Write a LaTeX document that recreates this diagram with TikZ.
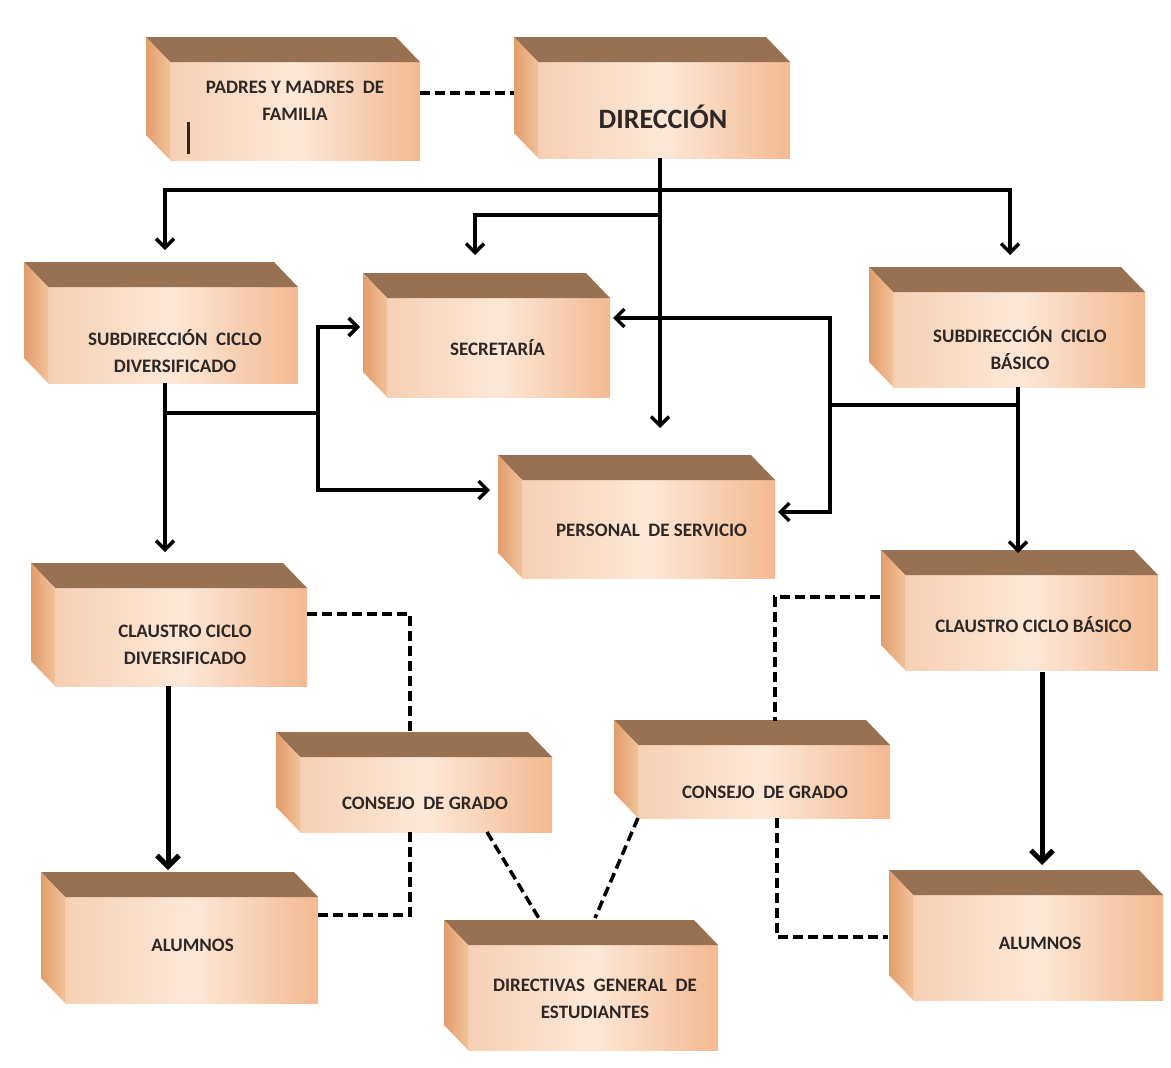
\documentclass[tikz,border=0pt]{standalone}
\usepackage{fontspec}
\setmainfont{Carlito}
\usetikzlibrary{calc,arrows.meta}
\definecolor{topc}{RGB}{152,112,82}
\definecolor{sideA}{RGB}{226,156,108}
\definecolor{sideB}{RGB}{242,194,152}
\definecolor{frontL}{RGB}{246,208,180}
\definecolor{frontM}{RGB}{252,232,215}
\definecolor{frontR}{RGB}{243,185,145}
\definecolor{txt}{RGB}{45,40,38}
\tikzset{
  face/.style={inner sep=0pt, outer sep=0pt, left color=frontL, right color=frontR, middle color=frontM},
  lbl/.style={font=\fontsize{19}{27}\selectfont\bfseries, align=center, text=txt, inner sep=0pt},
  biglbl/.style={font=\fontsize{28}{32}\selectfont\bfseries, align=center, text=txt, inner sep=0pt},
  conn/.style={line width=3.5pt},
  arr/.style={conn, -{Straight Barb[length=9pt,width=18pt]}},
  thickarr/.style={line width=5pt, -{Straight Barb[length=11pt,width=22pt]}},
  dashln/.style={line width=3.5pt, dash pattern=on 10pt off 5pt},
}
\newcommand\mkcube[5]{%
  \node[face, minimum width=#4pt, minimum height=#5pt] (#1) at (#2,#3) {};
  \fill[topc] (#1.north west) -- ++(-24,-25) -- ($(#1.north east)+(-24,-25)$) -- (#1.north east) -- cycle;
  \shade[left color=sideA, right color=sideB] (#1.north west) -- ++(-24,-25) -- ($(#1.south west)+(-24,-25)$) -- (#1.south west) -- cycle;
}
\begin{document}
\begin{tikzpicture}[x=1pt, y=-1pt]
\fill[white] (0,0) rectangle (1171,1068);
\useasboundingbox (0,0) rectangle (1171,1068);

% boxes
\mkcube{padres}{295}{111}{250}{98}
\mkcube{dir}{664}{110}{252}{96}
\mkcube{subdiv}{173}{335}{250}{96}
\mkcube{sec}{498.5}{347.5}{223}{99}
\mkcube{subbas}{1019}{339.5}{252}{95}
\mkcube{personal}{648.5}{529}{253}{98}
\mkcube{claudiv}{181}{637}{252}{98}
\mkcube{claubas}{1031.5}{622.5}{253}{95}
\mkcube{consL}{426}{794.5}{252}{75}
\mkcube{consR}{764}{781.5}{252}{73}
\mkcube{alumL}{191.5}{950}{253}{106}
\mkcube{direc}{593}{997.5}{250}{105}
\mkcube{alumR}{1038}{947.5}{250}{105}

% labels
\node[lbl] (t-padres) at ($(padres)+(0,-10)$) {PADRES Y MADRES\ \ DE\\FAMILIA};
\node[biglbl] (t-dir) at ($(dir)+(-1,7)$) {DIRECCIÓN};
\node[lbl] (t-subdiv) at ($(subdiv)+(2,16)$) {SUBDIRECCIÓN\ \ CICLO\\DIVERSIFICADO};
\node[lbl] (t-sec) at ($(sec)+(-1,0)$) {SECRETARÍA};
\node[lbl] (t-subbas) at ($(subbas)+(1,9)$) {SUBDIRECCIÓN\ \ CICLO\\BÁSICO};
\node[lbl] (t-personal) at ($(personal)+(3,1)$) {PERSONAL\ \ DE SERVICIO};
\node[lbl] (t-claudiv) at ($(claudiv)+(4,8)$) {CLAUSTRO CICLO\\DIVERSIFICADO};
\node[lbl] (t-claubas) at ($(claubas)+(2,2)$) {CLAUSTRO CICLO BÁSICO};
\node[lbl] (t-consL) at ($(consL)+(-1,9)$) {CONSEJO\ \ DE GRADO};
\node[lbl] (t-consR) at ($(consR)+(1,11)$) {CONSEJO\ \ DE GRADO};
\node[lbl] (t-alumL) at ($(alumL)+(1,-5)$) {ALUMNOS};
\node[lbl] (t-direc) at ($(direc)+(2,1)$) {DIRECTIVAS\ \ GENERAL\ \ DE\\ESTUDIANTES};
\node[lbl] (t-alumR) at ($(alumR)+(2,-4)$) {ALUMNOS};

% stray cursor mark
\draw[line width=3pt, txt] ($(padres.south west)+(18,-38)$) -- ++(0,32);

% padres - direccion
\draw[dashln] ($(padres.east)+(0,-18)$) -- ($(dir.west)+(-24,-17)$);

% direccion outputs
\coordinate (d1) at ($(dir.south)+(-4,32)$);
\coordinate (d2) at ($(dir.south)+(-4,57)$);
\draw[arr] ($(dir.south)+(-4,0)$) -- ($(personal.north)+(11.5,-52)$);
\draw[arr] (d1) -| ($(subdiv.north)+(-8,-37)$);
\draw[arr] (d1) -| ($(subbas.north)+(-9,-37)$);
\draw[arr] (d2) -| ($(sec.north)+(-23.5,-43)$);

% subdireccion diversificado
\draw[arr] ($(subdiv.south)+(-8,0)$) -- ($(claudiv.north)+(-16,-36)$);
\coordinate (jl) at ($(subdiv.south)+(145,30)$);
\draw[conn] ($(subdiv.south)+(-8,30)$) -- (jl);
\draw[arr] (jl) |- ($(sec.west)+(-27,-20.5)$);
\draw[arr] (jl) |- ($(personal.west)+(-32,-39)$);

% subdireccion basico
\draw[arr] ($(subbas.south)+(-1,0)$) -- ($(claubas.north)+(-13.5,-22)$);
\coordinate (jr) at ($(subbas.south)+(-189,18)$);
\draw[conn] ($(subbas.south)+(-1,18)$) -- (jr);
\draw[arr] (jr) |- ($(sec.east)+(3,-29.5)$);
\draw[arr] (jr) |- ($(personal.east)+(3,-17)$);

% claustros to alumnos
\draw[thickarr] ($(claudiv.south)+(-13,0)$) -- ($(alumL.north)+(-23.5,-27)$);
\draw[thickarr] ($(claubas.south)+(10.5,2)$) -- ($(alumR.north)+(4,-30)$);

% dashed links
\draw[dashln] ($(claudiv.east)+(0,-23)$) -| ($(consL.north)+(-16,-26)$);
\draw[dashln] ($(consL.south)+(-16,0)$) |- ($(alumL.east)+(0,-35)$);
\draw[dashln] ($(consL.south)+(61,0)$) -- ($(direc.north)+(-53,-25)$);
\draw[dashln] (consR.south west) -- ($(direc.north)+(2,-27)$);
\draw[dashln] ($(claubas.west)+(-25,-25.5)$) -| ($(consR.north)+(11,-24)$);
\draw[dashln] ($(consR.south)+(13,0)$) |- ($(alumR.west)+(-25,-10.5)$);
\end{tikzpicture}
\end{document}
